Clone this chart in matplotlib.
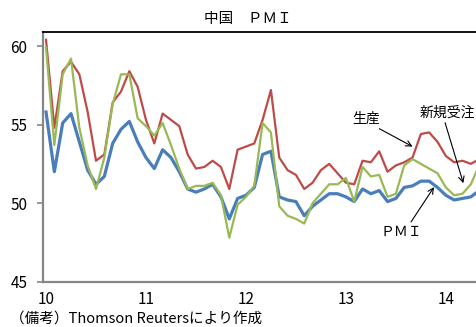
import numpy as np
import matplotlib
matplotlib.use('Agg')
import matplotlib.pyplot as plt

plt.rcParams['font.family'] = ['Noto Sans CJK JP', 'DejaVu Sans']

# 2010年1月～2014年5月（月次）
pmi = [55.8, 52.0, 55.1, 55.7, 53.9, 52.1, 51.2, 51.7, 53.8, 54.7, 55.2, 53.9,
       52.9, 52.2, 53.4, 52.9, 52.0, 50.9, 50.7, 50.9, 51.2, 50.4, 49.0, 50.3,
       50.5, 51.0, 53.1, 53.3, 50.4, 50.2, 50.1, 49.2, 49.8, 50.2, 50.6, 50.6,
       50.4, 50.1, 50.9, 50.6, 50.8, 50.1, 50.3, 51.0, 51.1, 51.4, 51.4, 51.0,
       50.5, 50.2, 50.3, 50.4, 50.8]
seisan = [60.4, 54.8, 58.4, 59.0, 58.2, 55.8, 52.7, 53.1, 56.4, 57.1, 58.4, 57.4,
          55.3, 53.8, 55.7, 55.3, 54.9, 53.1, 52.2, 52.3, 52.7, 52.3, 50.9, 53.4,
          53.6, 53.8, 55.3, 57.2, 52.9, 52.1, 51.8, 50.9, 51.3, 52.1, 52.5, 51.9,
          51.3, 51.2, 52.7, 52.6, 53.3, 52.0, 52.4, 52.6, 52.9, 54.4, 54.5, 53.9,
          53.0, 52.6, 52.7, 52.5, 52.8]
juchu = [59.9, 53.7, 58.2, 59.2, 54.8, 52.4, 50.9, 52.9, 56.3, 58.2, 58.2, 55.4,
         54.9, 54.3, 55.1, 53.7, 52.2, 50.9, 51.1, 51.1, 51.3, 50.5, 47.8, 49.9,
         50.4, 51.1, 55.1, 54.5, 49.8, 49.2, 49.0, 48.7, 50.0, 50.6, 51.2, 51.2,
         51.6, 50.1, 52.3, 51.7, 51.8, 50.4, 50.6, 52.4, 52.8, 52.5, 52.2, 51.9,
         51.0, 50.5, 50.6, 51.2, 52.4]
nen_labels = ['10', '11', '12', '13', '14']

tsuki = np.arange(len(pmi))

fig = plt.figure(figsize=(4.77, 3.27), dpi=100)
ax = fig.add_axes([0.0895, 0.1385, 0.9105, 0.7645])

ax.plot(tsuki, pmi, color='#4a7ebb', lw=2.3)
ax.plot(tsuki, seisan, color='#be4b48', lw=1.6)
ax.plot(tsuki, juchu, color='#98b954', lw=1.6)

ax.set_xlim(-0.4, 51.74)
ax.set_ylim(45, 60.91)
ax.set_yticks([45, 50, 55, 60])
ax.set_xticks(np.arange(0, 60, 12))
ax.set_xticklabels(nen_labels)

ax.tick_params(axis='y', direction='out', length=4, width=1.2, color='#868686',
               pad=7, labelsize=11)
ax.tick_params(axis='x', length=0, pad=7, labelsize=11)

ax.spines['right'].set_visible(False)
ax.spines['left'].set_color('#868686')
ax.spines['left'].set_linewidth(1.6)
ax.spines['bottom'].set_color('#868686')
ax.spines['bottom'].set_linewidth(1.6)
ax.spines['top'].set_color('black')
ax.spines['top'].set_linewidth(1.3)

# 系列名の注記
flecha = dict(arrowstyle='->', color='black', lw=0.8, shrinkA=0, shrinkB=0)
ax.annotate('生産', xy=(44.0, 53.6), xytext=(38.4, 55.36), fontsize=10,
            ha='center', va='center',
            arrowprops=dict(flecha, relpos=(0.8, 0.0)))
ax.annotate('新規受注', xy=(50.1, 51.27), xytext=(48.14, 55.74), fontsize=10,
            ha='center', va='center', annotation_clip=False,
            arrowprops=dict(flecha, relpos=(0.45, 0.0)))
ax.annotate('ＰＭＩ', xy=(46.58, 51.02), xytext=(42.6, 48.18), fontsize=10,
            ha='center', va='center',
            arrowprops=dict(flecha, relpos=(0.7, 1.0)))

fig.text(0.52, 0.943, '中国　ＰＭＩ', fontsize=10.5, ha='center', va='center')
fig.text(0.022, 0.027, '（備考）Thomson Reutersにより作成', fontsize=10.5,
         ha='left', va='center')

fig.savefig('out.png', dpi=100)
